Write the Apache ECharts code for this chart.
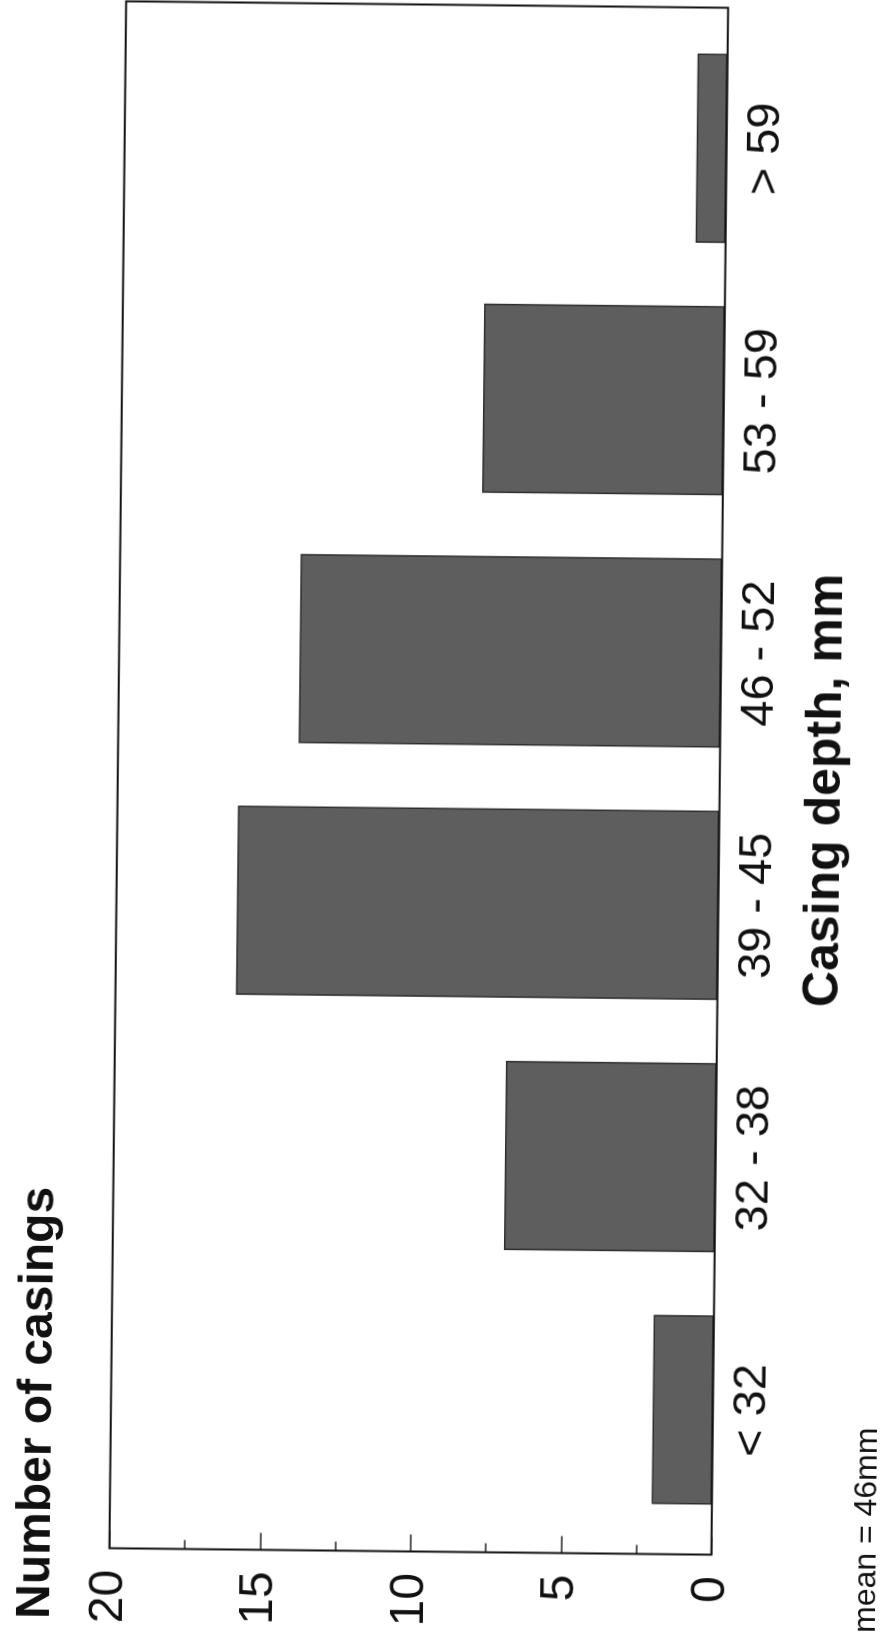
<!DOCTYPE html>
<html><head><meta charset="utf-8">
<script src="https://cdn.jsdelivr.net/npm/echarts@6/dist/echarts.min.js"></script>
<style>
html,body{margin:0;padding:0;background:#fff;overflow:hidden;width:892px;height:1643px}
#chart{position:absolute;left:0;top:0;width:1643px;height:892px;transform-origin:0 0;
transform: translate(418.75px,778px) rotate(0.62deg) translate(-418.75px,-778px) translate(0px,1643px) rotate(-90deg);}
</style></head><body><div id="chart"></div>
<script>
// Data
const categories = ['< 32', '32 - 38', '39 - 45', '46 - 52', '53 - 59', '> 59'];
const casingCounts = [2, 7, 16, 14, 8, 1];
const valueTicks = [0, 5, 10, 15, 20];
const valueTitle = 'Number of casings';
const categoryTitle = 'Casing depth, mm';
const noteText = 'mean = 46mm';

const FONT = '"Liberation Sans", Arial, Helvetica, sans-serif';
const chart = echarts.init(document.getElementById('chart'), null, {renderer: 'canvas'});
chart.setOption({
  backgroundColor: '#ffffff',
  animation: false,
  title: [
    {text: valueTitle, left: 20, top: 21, padding: 0,
     textStyle: {fontFamily: FONT, fontSize: 48, fontWeight: 'bold', color: '#111'}},
    {text: categoryTitle, left: 857, top: 801, padding: 0, textAlign: 'center',
     textStyle: {fontFamily: FONT, fontSize: 50, fontWeight: 'bold', color: '#111'}},
    {text: noteText, left: 15, top: 859, padding: 0,
     textStyle: {fontFamily: FONT, fontSize: 32, fontWeight: 'normal', color: '#111'}}
  ],
  graphic: [{
    type: 'rect', z: 50, silent: true,
    shape: {x: 91.5, y: 117.75, width: 1547, height: 602},
    style: {fill: 'none', stroke: '#111', lineWidth: 2}
  }],
  grid: {left: 110, right: 19, top: 117.75, bottom: 172.25, containLabel: false},
  xAxis: {
    type: 'category',
    data: categories,
    axisLine: {show: false},
    axisTick: {show: false},
    axisLabel: {fontFamily: FONT, fontSize: 47, color: '#111', margin: 16}
  },
  yAxis: {
    type: 'value',
    min: valueTicks[0],
    max: valueTicks[valueTicks.length - 1],
    interval: valueTicks[1] - valueTicks[0],
    offset: 18.5,
    axisLine: {show: false},
    axisTick: {show: true, inside: true, length: 17, lineStyle: {color: '#222', width: 1.5}},
    minorTick: {show: true, splitNumber: 2, length: 9, lineStyle: {color: '#222', width: 1.5}},
    splitLine: {show: false},
    axisLabel: {fontFamily: FONT, fontSize: 48, color: '#111', margin: 21.5}
  },
  series: [{
    type: 'bar',
    data: casingCounts,
    barCategoryGap: '25%',
    itemStyle: {color: '#5e5e5e', borderColor: '#2e2e2e', borderWidth: 1.5}
  }]
});
</script></body></html>
